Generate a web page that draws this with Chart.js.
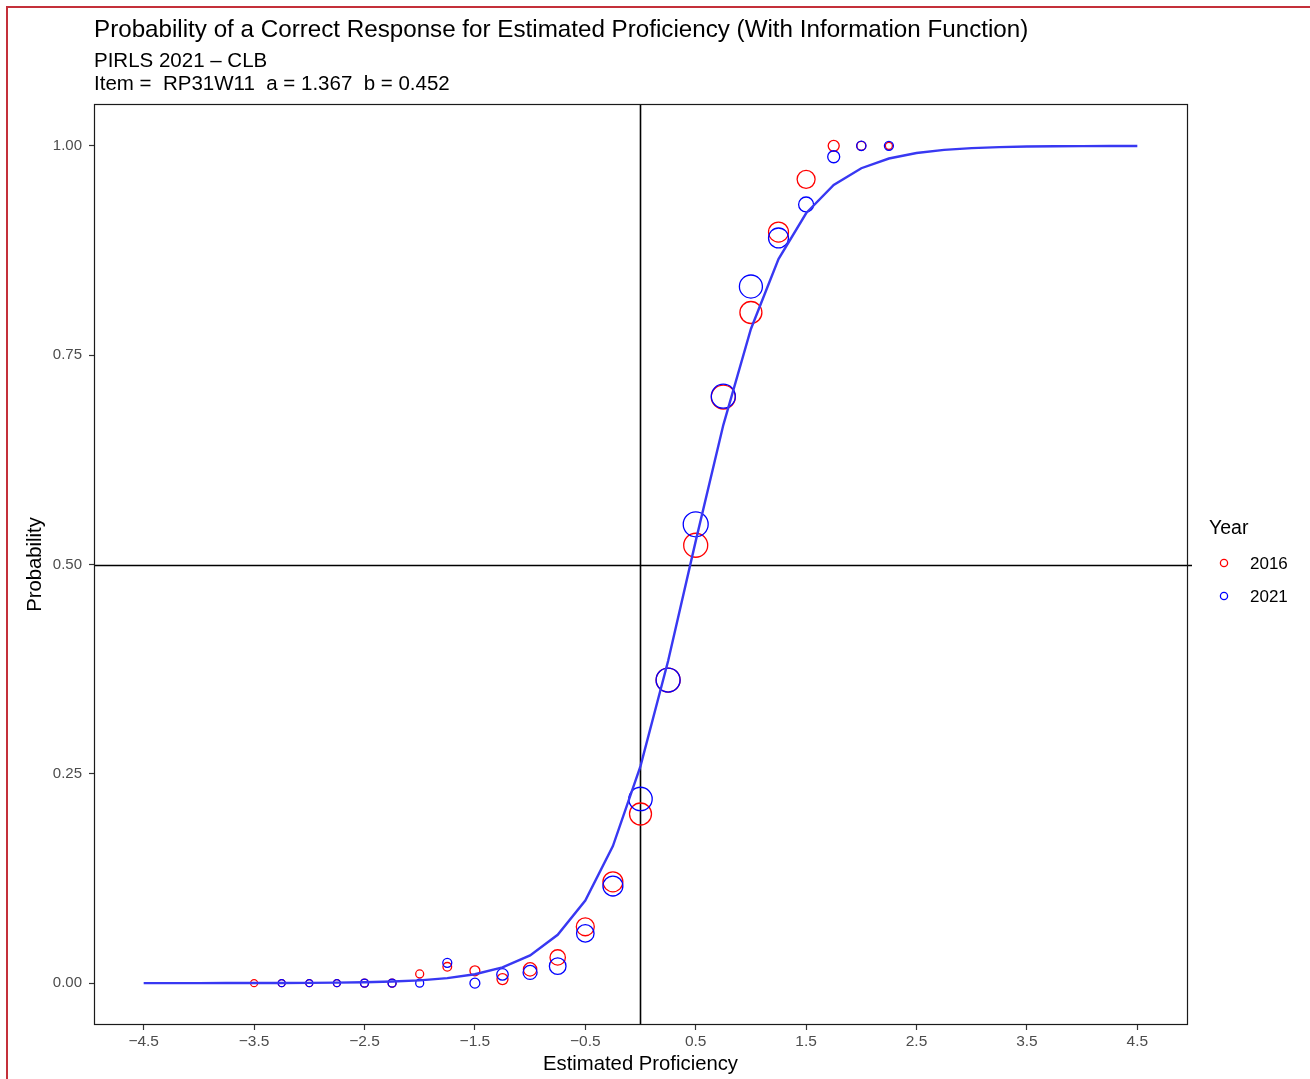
<!DOCTYPE html>
<html>
<head>
<meta charset="utf-8">
<title>Probability of a Correct Response</title>
<script src="https://cdn.jsdelivr.net/npm/chart.js@4.4.1/dist/chart.umd.min.js"></script>
<style>
  html, body { margin: 0; padding: 0; background: #ffffff; }
  #wrap { position: relative; width: 1310px; height: 1079px; overflow: hidden; }
  #frame { position: absolute; left: 6px; top: 6px; right: -4px; bottom: -4px;
           border-left: 2px solid #c4303a; border-top: 2px solid #c4303a; pointer-events: none; }
  canvas { position: absolute; left: 0; top: 0; }
</style>
</head>
<body>
<div id="wrap">
  <canvas id="chart" width="1310" height="1079"></canvas>
  <div id="frame"></div>
</div>
<script>
// Observed proportion correct by proficiency bin
const theta = [-3.5, -3.25, -3, -2.75, -2.5, -2.25, -2, -1.75, -1.5, -1.25, -1, -0.75,
               -0.5, -0.25, 0, 0.25, 0.5, 0.75, 1, 1.25, 1.5, 1.75, 2, 2.25];
const prop2016 = [0, 0, 0, 0, 0, 0, 0.011, 0.0195, 0.0147, 0.0048, 0.0164, 0.0307,
                  0.0673, 0.121, 0.202, 0.362, 0.523, 0.700, 0.801, 0.897, 0.960, 1.0, 1.0, 1.0];
const prop2021 = [null, 0, 0, 0, 0, 0, 0, 0.0243, 0, 0.0104, 0.0128, 0.0203,
                  0.0594, 0.116, 0.220, 0.362, 0.548, 0.701, 0.832, 0.890, 0.930, 0.987, 1.0, 1.0];
// Relative number of students in each bin (drives circle area)
const weight2016 = [8.5, 8.5, 8.5, 8.5, 11, 11, 11, 13, 17, 21, 31, 41,
                    56, 69, 84, 100, 100, 100, 84, 69, 56, 21, 14, 8.5];
const weight2021 = [null, 8.5, 8.5, 8.5, 11, 11, 11, 14, 17, 23, 34, 48,
                    53, 69, 95, 100, 108, 100, 92, 69, 39, 25, 15, 14];

// Item characteristic curve
const curveTheta = [-4.5, -4.25, -4, -3.75, -3.5, -3.25, -3, -2.75, -2.5, -2.25, -2, -1.75,
                    -1.5, -1.25, -1, -0.75, -0.5, -0.25, 0, 0.25, 0.5, 0.75, 1, 1.25,
                    1.5, 1.75, 2, 2.25, 2.5, 2.75, 3, 3.25, 3.5, 3.75, 4, 4.25, 4.5];
const curveProb = [0.0000, 0.0000, 0.0000, 0.0001, 0.0001, 0.0002, 0.0003, 0.0006, 0.0010, 0.0019,
                   0.0033, 0.0060, 0.0106, 0.0188, 0.0331, 0.0577, 0.0987, 0.1637, 0.2592, 0.3848,
                   0.5279, 0.6665, 0.7813, 0.8647, 0.9195, 0.9533, 0.9733, 0.9849, 0.9915, 0.9952,
                   0.9973, 0.9985, 0.9992, 0.9995, 0.9997, 0.9999, 0.9999];

const xTicks = [-4.5, -3.5, -2.5, -1.5, -0.5, 0.5, 1.5, 2.5, 3.5, 4.5];
const yTicks = [0, 0.25, 0.5, 0.75, 1];
const refTheta = 0;
const refProb = 0.5;

const titleText = 'Probability of a Correct Response for Estimated Proficiency (With Information Function)';
const subtitleLines = ['PIRLS 2021 \u2013 CLB', 'Item =  RP31W11  a = 1.367  b = 0.452'];
const legendTitle = 'Year';

const FONT = '"Liberation Sans", Arial, Helvetica, sans-serif';
const RED = '#ff0000';
const BLUE = '#0000ff';

function radiusFor(w) { return w == null ? 0 : 1.2 * Math.sqrt(w); }

function pointsFor(props, weights) {
  const pts = [], radii = [];
  theta.forEach((t, i) => {
    if (props[i] == null) return;
    pts.push({ x: t, y: props[i] });
    radii.push(radiusFor(weights[i]));
  });
  return { pts, radii };
}

const s16 = pointsFor(prop2016, weight2016);
const s21 = pointsFor(prop2021, weight2021);
const curve = curveTheta.map((t, i) => ({ x: t, y: curveProb[i] }));

function fmtNum(v, digits) {
  const s = Math.abs(v).toFixed(digits);
  return v < 0 ? '\u2212' + s : s;
}

// Panel frame, reference lines, headings and the year key
const decor = {
  id: 'decor',
  beforeDatasetsDraw(chart) {
    const { ctx, chartArea: a, scales: { x, y } } = chart;
    ctx.save();
    ctx.strokeStyle = '#000000';
    ctx.lineWidth = 1.6;
    const vx = Math.floor(x.getPixelForValue(refTheta)) + 0.5;
    ctx.beginPath(); ctx.moveTo(vx, a.top); ctx.lineTo(vx, a.bottom); ctx.stroke();
    const hy = Math.round(y.getPixelForValue(refProb)) + 0.5;
    ctx.beginPath(); ctx.moveTo(a.left, hy); ctx.lineTo(a.right + 5, hy); ctx.stroke();
    ctx.restore();
  },
  afterDraw(chart) {
    const { ctx, chartArea: a } = chart;
    ctx.save();
    ctx.strokeStyle = '#1a1a1a';
    ctx.lineWidth = 1.2;
    ctx.strokeRect(a.left + 0.5, a.top + 0.5, a.right - a.left, a.bottom - a.top - 1);

    ctx.fillStyle = '#000000';
    ctx.textAlign = 'left';
    ctx.textBaseline = 'alphabetic';
    ctx.font = '24.2px ' + FONT;
    ctx.fillText(titleText, a.left, 37);
    ctx.font = '20.5px ' + FONT;
    ctx.fillText(subtitleLines[0], a.left, 67);
    ctx.fillText(subtitleLines[1], a.left, 90);

    // key
    ctx.font = '19.5px ' + FONT;
    ctx.textBaseline = 'middle';
    ctx.fillText(legendTitle, 1209, 529);
    const entries = chart.data.datasets.filter(d => d.keyEntry);
    entries.sort((p, q) => p.label.localeCompare(q.label));
    ctx.font = '17px ' + FONT;
    entries.forEach((d, i) => {
      const cy = 563 + i * 33;
      ctx.beginPath();
      ctx.arc(1224, cy, 3.6, 0, Math.PI * 2);
      ctx.strokeStyle = d.borderColor;
      ctx.lineWidth = 1.3;
      ctx.stroke();
      ctx.fillStyle = '#000000';
      ctx.fillText(d.label, 1250, cy + 1);
    });
    ctx.restore();
  }
};

new Chart(document.getElementById('chart'), {
  type: 'scatter',
  data: {
    datasets: [
      {
        label: 'ICC',
        data: curve,
        showLine: true,
        borderColor: '#3838f2',
        borderWidth: 2.4,
        pointRadius: 0,
        fill: false,
        tension: 0,
        order: 0
      },
      {
        label: '2021',
        keyEntry: true,
        data: s21.pts,
        pointRadius: s21.radii,
        pointBorderWidth: 1.3,
        borderColor: BLUE,
        pointBorderColor: BLUE,
        backgroundColor: 'rgba(0,0,0,0)',
        pointBackgroundColor: 'rgba(0,0,0,0)',
        order: 1
      },
      {
        label: '2016',
        keyEntry: true,
        data: s16.pts,
        pointRadius: s16.radii,
        pointBorderWidth: 1.3,
        borderColor: RED,
        pointBorderColor: RED,
        backgroundColor: 'rgba(0,0,0,0)',
        pointBackgroundColor: 'rgba(0,0,0,0)',
        order: 2
      }
    ]
  },
  options: {
    responsive: false,
    animation: false,
    clip: false,
    layout: { padding: { top: 104, right: 123, bottom: 0, left: 0 } },
    plugins: {
      legend: { display: false },
      tooltip: { enabled: false },
      title: { display: false }
    },
    scales: {
      x: {
        type: 'linear',
        min: -4.95,
        max: 4.95,
        afterBuildTicks: s => { s.ticks = xTicks.map(v => ({ value: v })); },
        afterFit: s => { s.height = 54; },
        ticks: {
          autoSkip: false,
          maxRotation: 0,
          padding: 2,
          color: '#4d4d4d',
          font: { family: FONT, size: 15.5 },
          callback: v => fmtNum(v, 1)
        },
        grid: { drawOnChartArea: false, drawTicks: true, tickLength: 5, tickColor: '#333333', tickWidth: 1.2 },
        border: { display: false },
        title: {
          display: true,
          text: 'Estimated Proficiency',
          color: '#000000',
          font: { family: FONT, size: 20.3 },
          padding: { top: 0, bottom: 2 }
        }
      },
      y: {
        type: 'linear',
        min: -0.05,
        max: 1.05,
        afterBuildTicks: s => { s.ticks = yTicks.map(v => ({ value: v })); },
        afterFit: s => { s.width = 94; },
        ticks: {
          autoSkip: false,
          padding: 7,
          color: '#4d4d4d',
          font: { family: FONT, size: 15 },
          callback: v => fmtNum(v, 2)
        },
        grid: { drawOnChartArea: false, drawTicks: true, tickLength: 5, tickColor: '#333333', tickWidth: 1.2 },
        border: { display: false },
        title: {
          display: true,
          text: 'Probability',
          color: '#000000',
          font: { family: FONT, size: 20.3 },
          padding: { top: 23, bottom: 0 }
        }
      }
    }
  },
  plugins: [decor]
});
</script>
</body>
</html>
